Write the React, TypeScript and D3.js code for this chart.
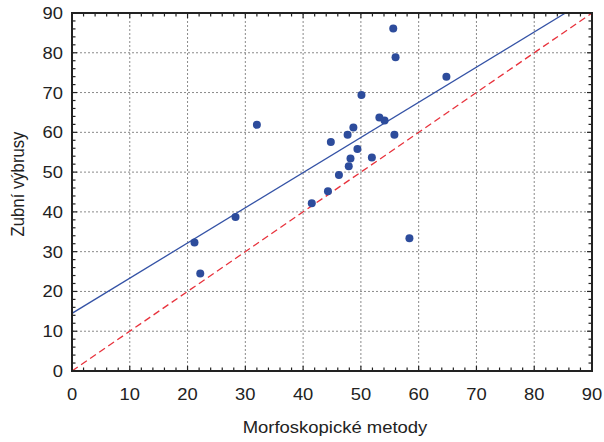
import React from "react";
import * as d3 from "d3";

// Morphoscopic method estimate (x) vs. dental thin-section estimate (y)
const morfoskopicke = [55.6, 56.0, 64.8, 50.1, 53.2, 54.1, 48.7, 47.7, 55.8, 44.8, 49.4, 48.2, 51.9, 47.9, 46.2, 44.3, 41.5, 58.4, 32.0, 28.3, 21.2, 22.2];
const vybrusy = [86.1, 78.9, 74.0, 69.4, 63.7, 63.0, 61.2, 59.4, 59.4, 57.6, 55.8, 53.4, 53.7, 51.5, 49.3, 45.2, 42.2, 33.4, 61.9, 38.7, 32.3, 24.5];

const xTicks = [0, 10, 20, 30, 40, 50, 60, 70, 80, 90];
const yTicks = [0, 10, 20, 30, 40, 50, 60, 70, 80, 90];

// Fitted regression line and identity line
const fitIntercept = 14.5;
const fitSlope = 0.884;

const W = 604;
const H = 442;
const left = 72;
const right = 592;
const top = 13;
const bottom = 371;

// horizontal labels are drawn slightly widened
const SX = 1.1;

export default function App() {
  const x = d3.scaleLinear().domain([0, 90]).range([left, right]);
  const y = d3.scaleLinear().domain([0, 90]).range([bottom, top]);

  const minor = d3.range(0, 90.001, 2);
  const font = "'Liberation Sans', Arial, Helvetica, sans-serif";
  const textColor = "#222";

  // Regression line clipped to the plot frame
  const xAtTop = (90 - fitIntercept) / fitSlope;
  const fitPts: [number, number][] = [
    [0, fitIntercept],
    [xAtTop, 90],
  ];
  const line = d3
    .line<[number, number]>()
    .x((d) => x(d[0]))
    .y((d) => y(d[1]));

  return (
    <svg
      width={W}
      height={H}
      style={{ position: "absolute", left: 0, top: 0, background: "#fff" }}
    >
      <defs>
        <clipPath id="plot">
          <rect x={left} y={top} width={right - left} height={bottom - top} />
        </clipPath>
      </defs>

      {/* grid */}
      {xTicks.slice(1, -1).map((t) => (
        <line
          key={"gx" + t}
          x1={x(t)}
          x2={x(t)}
          y1={top}
          y2={bottom}
          stroke="#8a8a8a"
          strokeWidth={1}
          strokeDasharray="2,2"
        />
      ))}
      {yTicks.slice(1, -1).map((t) => (
        <line
          key={"gy" + t}
          x1={left}
          x2={right}
          y1={y(t)}
          y2={y(t)}
          stroke="#8a8a8a"
          strokeWidth={1}
          strokeDasharray="2,2"
        />
      ))}

      {/* lines */}
      <g clipPath="url(#plot)">
        <line
          x1={x(0)}
          y1={y(0)}
          x2={x(90)}
          y2={y(90)}
          stroke="#e8323c"
          strokeWidth={1.3}
          strokeDasharray="7,4"
        />
        <path d={line(fitPts) || ""} fill="none" stroke="#3553a6" strokeWidth={1.3} />
      </g>

      {/* points */}
      {morfoskopicke.map((v, i) => (
        <circle key={"p" + i} cx={x(v)} cy={y(vybrusy[i])} r={4} fill="#2d4c9c" />
      ))}

      {/* minor/major ticks on all four sides, pointing inward */}
      {minor.map((t) => {
        const len = t % 10 === 0 ? 5 : 3.5;
        return (
          <g key={"t" + t} stroke="#222" strokeWidth={1.2}>
            <line x1={x(t)} x2={x(t)} y1={bottom} y2={bottom - len} />
            <line x1={x(t)} x2={x(t)} y1={top} y2={top + len} />
            <line x1={left} x2={left + len} y1={y(t)} y2={y(t)} />
            <line x1={right} x2={right - len} y1={y(t)} y2={y(t)} />
          </g>
        );
      })}

      {/* frame */}
      <rect
        x={left}
        y={top}
        width={right - left}
        height={bottom - top}
        fill="none"
        stroke="#222"
        strokeWidth={2}
      />

      {/* tick labels */}
      {xTicks.map((t) => (
        <text
          key={"xl" + t}
          transform={`translate(${x(t)}, 399.5) scale(${SX}, 1)`}
          textAnchor="middle"
          fontFamily={font}
          fontSize={16.7}
          fill={textColor}
        >
          {t}
        </text>
      ))}
      {yTicks.map((t) => (
        <text
          key={"yl" + t}
          transform={`translate(63, ${y(t)}) scale(${SX}, 1)`}
          dy="0.36em"
          textAnchor="end"
          fontFamily={font}
          fontSize={16.7}
          fill={textColor}
        >
          {t}
        </text>
      ))}

      {/* axis titles */}
      <text
        transform={`translate(${(left + right) / 2 + 3}, 433.3) scale(${SX}, 1)`}
        textAnchor="middle"
        fontFamily={font}
        fontSize={16.8}
        fill={textColor}
      >
        Morfoskopické metody
      </text>
      <text
        transform={`translate(24, ${(top + bottom) / 2 - 8}) rotate(-90) scale(1, ${SX})`}
        textAnchor="middle"
        fontFamily={font}
        fontSize={16.7}
        fill={textColor}
      >
        Zubní výbrusy
      </text>
    </svg>
  );
}
